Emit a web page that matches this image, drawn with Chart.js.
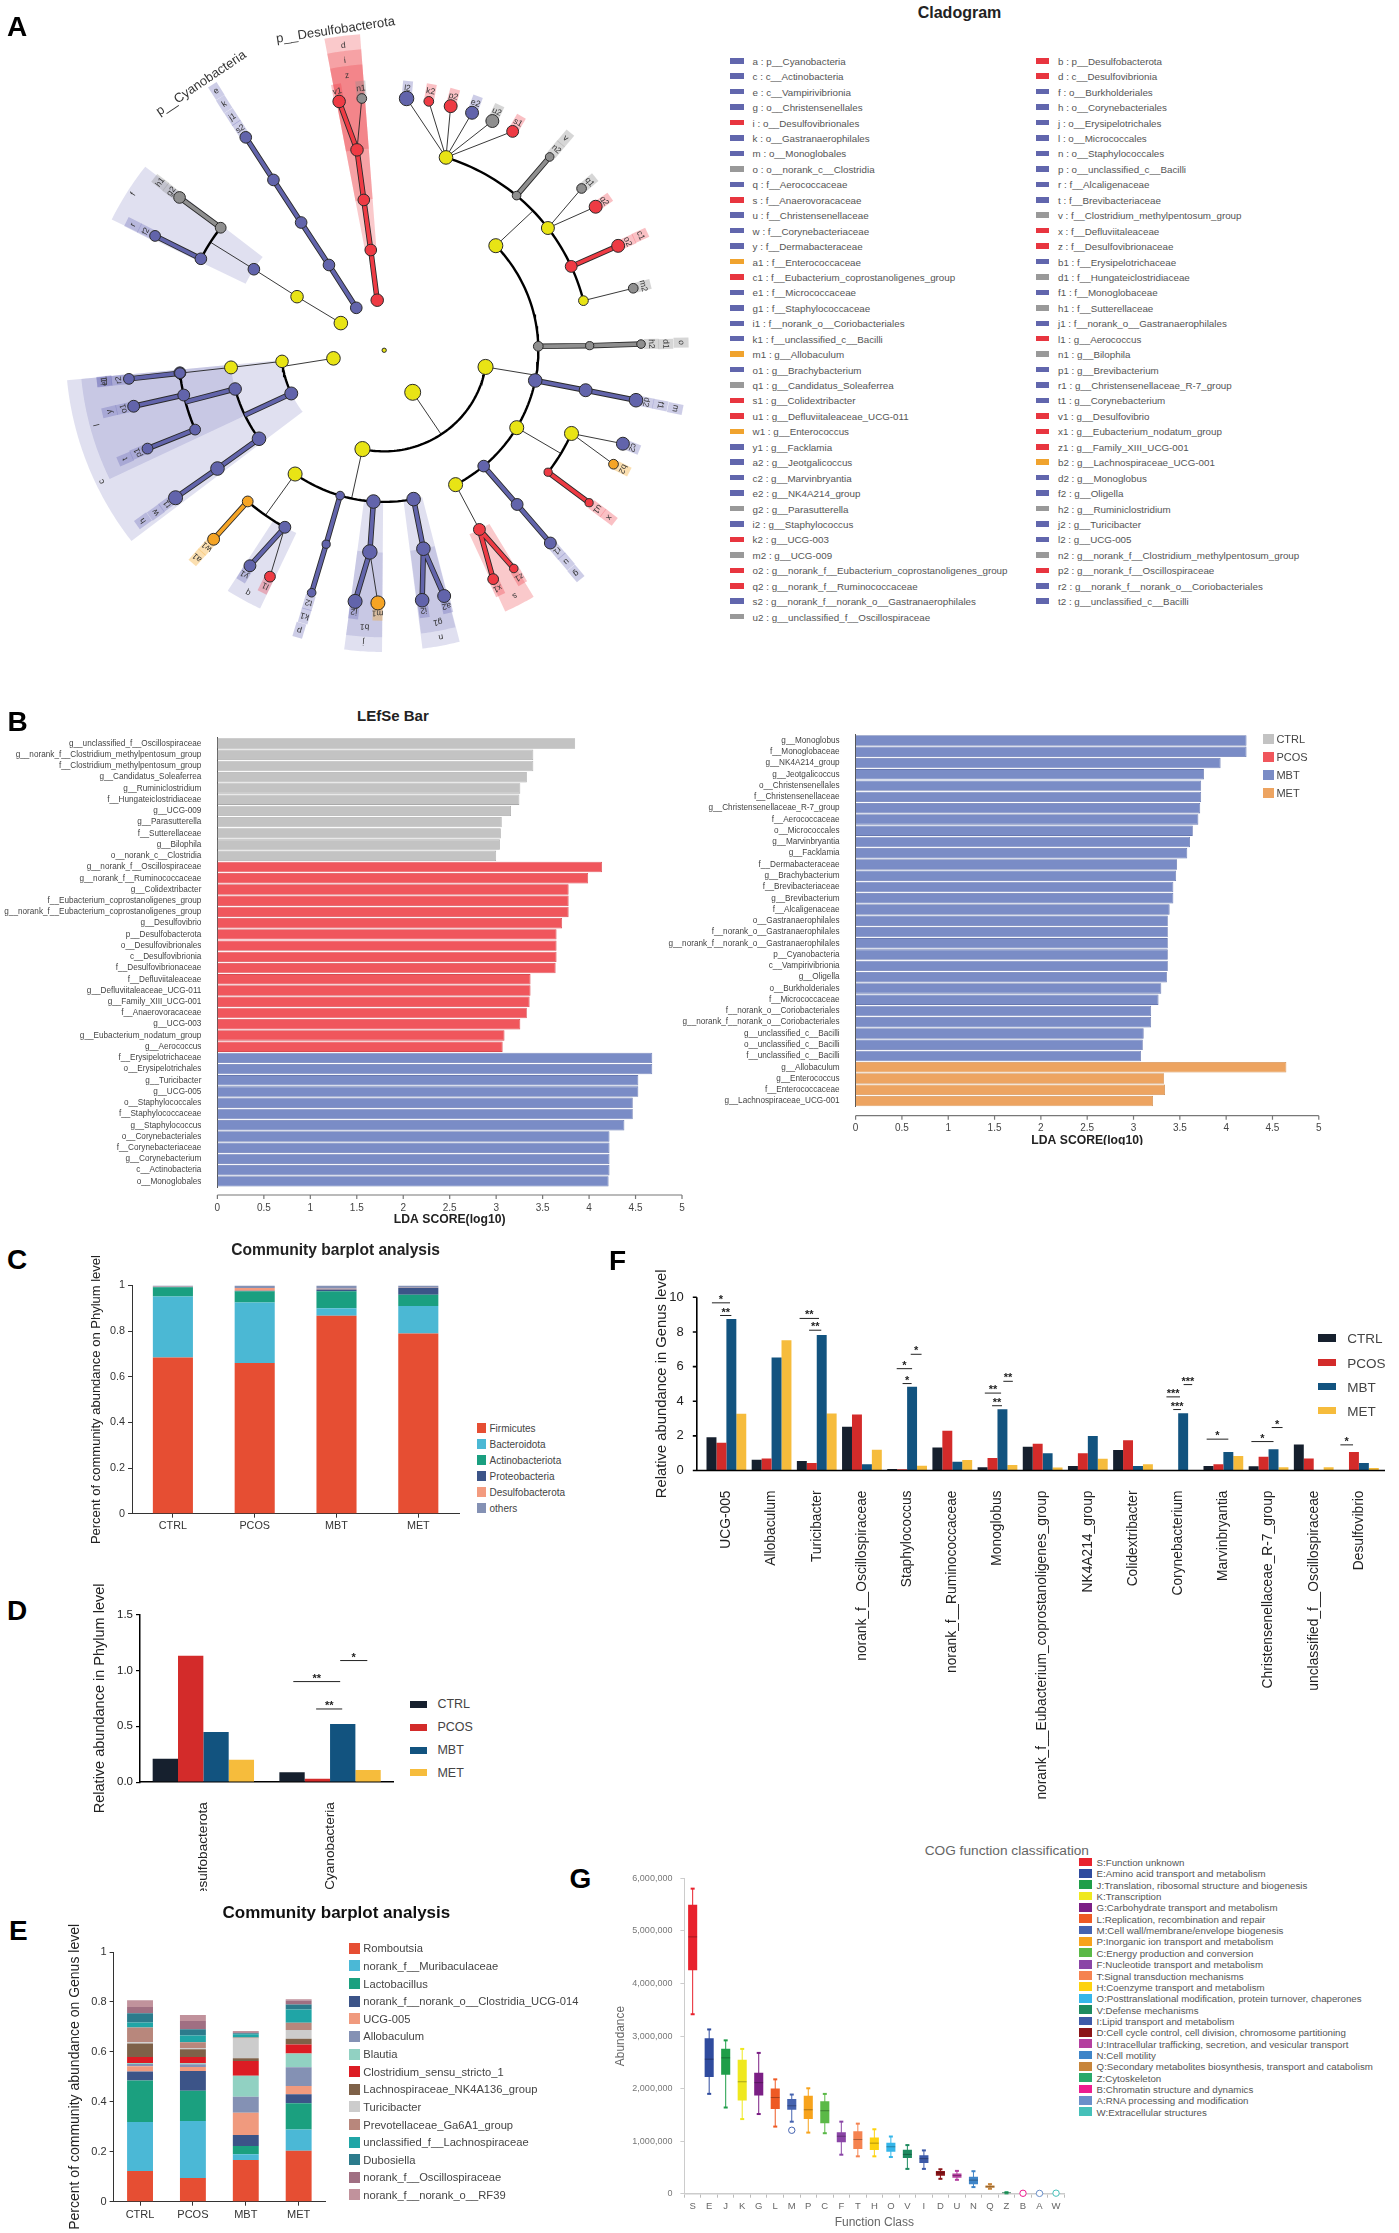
<!DOCTYPE html>
<html>
<head>
<meta charset="utf-8">
<title>Multi panel microbiome figure</title>
<script src="https://cdn.jsdelivr.net/npm/chart.js@4"></script>
<style>
  html, body { margin: 0; background: #fff; }
  #page { position: relative; width: 1399px; height: 2233px; overflow: hidden; font-family: "Liberation Sans", Arial, sans-serif; }
  #page canvas { position: absolute; }
  .t { position: absolute; white-space: nowrap; line-height: 1; }
  .s { position: absolute; }
</style>
</head>
<body>
<div id="page"></div>
<script>
// ---------- A: cladogram ----------
// id, parent, angle (deg clockwise from north), enriched group, node size
const cladeNodes = [
  ['root', null, 0, 'Y', 2],
  ['b', 'root', -7.8, 'R', 5.8], ['a', 'root', -32.9, 'B', 5.4], ['Y1', 'root', -57.5, 'Y', 6.3], ['Y2', 'root', -99.2, 'Y', 6.3], ['Y3', 'root', 146.3, 'Y', 7.4],
  ['d', 'b', -7.5, 'R', 5.4], ['e', 'a', -32.5, 'B', 5.4], ['Y4', 'Y1', -58, 'Y', 5.8], ['Y5', 'Y2', -96.3, 'Y', 5.8], ['c', 'Y2', -115.3, 'B', 6], ['Y6', 'Y3', 99.5, 'Y', 7], ['Y7', 'Y3', 192.2, 'Y', 7],
  ['i', 'd', -7.6, 'R', 5.4], ['k', 'e', -32.6, 'B', 5.4], ['f', 'Y4', -57.7, 'B', 5.4], ['Y8', 'Y5', 263.5, 'Y', 6], ['l', 'c', 255.2, 'B', 5.8], ['h', 'c', 234.3, 'B', 6.3],
  ['Y10', 'Y6', 46.4, 'Y', 6.5], ['o', 'Y6', 88.5, 'G', 4.5], ['m', 'Y6', 101.5, 'B', 6.3], ['Y11', 'Y6', 120.7, 'Y', 6.5], ['g', 'Y6', 139.8, 'B', 5.4], ['Y12', 'Y6', 152.4, 'Y', 6.5],
  ['n', 'Y7', 169, 'B', 6.3], ['j', 'Y7', 184, 'B', 6.3], ['p', 'Y7', 196.6, 'B', 4], ['Y13', 'Y7', 215.3, 'Y', 6.5],
  ['Y14', 'Y10', 17.5, 'Y', 6.3], ['v', 'Y10', 40.1, 'G', 4], ['Y15', 'Y10', 52.8, 'Y', 6], ['c1', 'Y10', 65.5, 'R', 5.5], ['Y16', 'Y10', 75.8, 'Y', 4.5],
  ['d1', 'o', 88.7, 'G', 3.8], ['f1', 'm', 101.4, 'B', 6], ['Y17', 'Y11', 114.3, 'Y', 6.5], ['x', 'Y11', 127.1, 'R', 3.8], ['u', 'g', 139.7, 'B', 5.5], ['s', 'Y12', 152.4, 'R', 5.5],
  ['g1', 'n', 169, 'B', 6.3], ['b1', 'j', 184, 'B', 6.7], ['k1', 'p', 196.4, 'B', 3.8], ['q', 'Y13', 208.9, 'B', 5.5], ['a1', 'Y13', 221.6, 'O', 5],
  ['w', 'h', 234.2, 'B', 6.3], ['t', 'l', 246.9, 'B', 5], ['y', 'l', 257.2, 'B', 5.5], ['e1', 'l', 263.6, 'B', 5.5], ['i1', 'Y8', 263.5, 'B', 5],
  ['r', 'f', 296.9, 'B', 5.4], ['h1', 'f', 307.3, 'G', 5], ['j1', 'k', 327.4, 'B', 5.4], ['z', 'i', -7.6, 'R', 5.8],
  ['l2', 'Y14', 5, 'B', 6.7], ['k2', 'Y14', 10, 'R', 4.5], ['p2', 'Y14', 15, 'R', 6], ['e2', 'Y14', 20, 'B', 6], ['u2', 'Y14', 24.9, 'G', 6], ['s1', 'Y14', 30, 'R', 5.5],
  ['n2', 'v', 40.1, 'G', 4], ['q1', 'Y15', 50.2, 'G', 4.5], ['q2', 'Y15', 55.4, 'R', 6], ['o2', 'c1', 65.6, 'R', 6], ['m2', 'Y16', 75.8, 'G', 4.5],
  ['h2', 'd1', 88.6, 'G', 4], ['d2', 'f1', 101.4, 'B', 6.3], ['c2', 'Y17', 111.7, 'B', 6], ['b2', 'Y17', 116.8, 'O', 4.5], ['u1', 'x', 127.1, 'R', 3.8],
  ['r1', 'u', 139.7, 'B', 5.5], ['x1', 's', 154.9, 'R', 5], ['z1', 's', 149.7, 'R', 4], ['a2', 'g1', 166.5, 'B', 6], ['i2', 'g1', 171.5, 'B', 6.3],
  ['m1', 'b1', 181.4, 'O', 6.5], ['j2', 'b1', 186.5, 'B', 6.5], ['t2', 'k1', 196.4, 'B', 4], ['l1', 'q', 206.4, 'R', 5], ['y1', 'q', 211.5, 'B', 5.5],
  ['w1', 'a1', 221.6, 'O', 5.5], ['t1', 'w', 234.3, 'B', 6.5], ['p1', 't', 247.1, 'B', 5], ['o1', 'y', 257.2, 'B', 5.5], ['r2', 'i1', 263.5, 'B', 5],
  ['f2', 'r', 296.9, 'B', 5], ['g2', 'h1', 307.2, 'G', 5.4], ['s2', 'j1', 327.4, 'B', 5.4], ['v1', 'z', -10.1, 'R', 5.8], ['n1', 'z', -5, 'G', 4.5]
];
// from angle, to angle, inner ring, outer ring, group
const cladeWedges = [
  [232.5, 264.5, 2, 6.2, 'B'], [244.5, 264.5, 3, 5.92, 'B'], [296, 308, 3, 5.9, 'B'],
  [-10.7, -4.3, 2, 6.27, 'R'], [-10.7, -4.3, 3, 5.97, 'R'], [-10.7, -4.3, 4, 5.67, 'R'],
  [165.7, 172.8, 3, 5.95, 'B'], [165.8, 172.7, 4, 5.65, 'B'], [180.4, 187.5, 3, 5.97, 'B'], [180.4, 187.5, 4, 5.68, 'B'],
  [149.2, 155.5, 4, 5.68, 'R'], [205.3, 212.6, 4, 5.65, 'B']
];
const wedgeLabelled = ['d', 'i', 'z', 'c', 'l', 'f', 'j', 'b1', 'n', 'g1', 's', 'q'];
const cladeTitles = [['p__Desulfobacterota', -8.5, 6.4], ['p__Cyanobacteria', -34, 6.37]];
const cladeLegend = [
  ['a', 'p__Cyanobacteria', 'B'], ['b', 'p__Desulfobacterota', 'R'], ['c', 'c__Actinobacteria', 'B'], ['d', 'c__Desulfovibrionia', 'R'],
  ['e', 'c__Vampirivibrionia', 'B'], ['f', 'o__Burkholderiales', 'B'], ['g', 'o__Christensenellales', 'B'], ['h', 'o__Corynebacteriales', 'B'],
  ['i', 'o__Desulfovibrionales', 'R'], ['j', 'o__Erysipelotrichales', 'B'], ['k', 'o__Gastranaerophilales', 'B'], ['l', 'o__Micrococcales', 'B'],
  ['m', 'o__Monoglobales', 'B'], ['n', 'o__Staphylococcales', 'B'], ['o', 'o__norank_c__Clostridia', 'G'], ['p', 'o__unclassified_c__Bacilli', 'B'],
  ['q', 'f__Aerococcaceae', 'B'], ['r', 'f__Alcaligenaceae', 'B'], ['s', 'f__Anaerovoracaceae', 'R'], ['t', 'f__Brevibacteriaceae', 'B'],
  ['u', 'f__Christensenellaceae', 'B'], ['v', 'f__Clostridium_methylpentosum_group', 'G'], ['w', 'f__Corynebacteriaceae', 'B'], ['x', 'f__Defluviitaleaceae', 'R'],
  ['y', 'f__Dermabacteraceae', 'B'], ['z', 'f__Desulfovibrionaceae', 'R'], ['a1', 'f__Enterococcaceae', 'O'], ['b1', 'f__Erysipelotrichaceae', 'B'],
  ['c1', 'f__Eubacterium_coprostanoligenes_group', 'R'], ['d1', 'f__Hungateiclostridiaceae', 'G'], ['e1', 'f__Micrococcaceae', 'B'], ['f1', 'f__Monoglobaceae', 'B'],
  ['g1', 'f__Staphylococcaceae', 'B'], ['h1', 'f__Sutterellaceae', 'G'], ['i1', 'f__norank_o__Coriobacteriales', 'B'], ['j1', 'f__norank_o__Gastranaerophilales', 'B'],
  ['k1', 'f__unclassified_c__Bacilli', 'B'], ['l1', 'g__Aerococcus', 'R'], ['m1', 'g__Allobaculum', 'O'], ['n1', 'g__Bilophila', 'G'],
  ['o1', 'g__Brachybacterium', 'B'], ['p1', 'g__Brevibacterium', 'B'], ['q1', 'g__Candidatus_Soleaferrea', 'G'], ['r1', 'g__Christensenellaceae_R-7_group', 'B'],
  ['s1', 'g__Colidextribacter', 'R'], ['t1', 'g__Corynebacterium', 'B'], ['u1', 'g__Defluviitaleaceae_UCG-011', 'R'], ['v1', 'g__Desulfovibrio', 'R'],
  ['w1', 'g__Enterococcus', 'O'], ['x1', 'g__Eubacterium_nodatum_group', 'R'], ['y1', 'g__Facklamia', 'B'], ['z1', 'g__Family_XIII_UCG-001', 'R'],
  ['a2', 'g__Jeotgalicoccus', 'B'], ['b2', 'g__Lachnospiraceae_UCG-001', 'O'], ['c2', 'g__Marvinbryantia', 'B'], ['d2', 'g__Monoglobus', 'B'],
  ['e2', 'g__NK4A214_group', 'B'], ['f2', 'g__Oligella', 'B'], ['g2', 'g__Parasutterella', 'G'], ['h2', 'g__Ruminiclostridium', 'G'],
  ['i2', 'g__Staphylococcus', 'B'], ['j2', 'g__Turicibacter', 'B'], ['k2', 'g__UCG-003', 'R'], ['l2', 'g__UCG-005', 'B'],
  ['m2', 'g__UCG-009', 'G'], ['n2', 'g__norank_f__Clostridium_methylpentosum_group', 'G'], ['o2', 'g__norank_f__Eubacterium_coprostanoligenes_group', 'R'], ['p2', 'g__norank_f__Oscillospiraceae', 'R'],
  ['q2', 'g__norank_f__Ruminococcaceae', 'R'], ['r2', 'g__norank_f__norank_o__Coriobacteriales', 'B'], ['s2', 'g__norank_f__norank_o__Gastranaerophilales', 'B'], ['t2', 'g__unclassified_c__Bacilli', 'B'],
  ['u2', 'g__unclassified_f__Oscillospiraceae', 'G']
];

// ---------- B: LEfSe bars ----------
const lefseLeftLabels = ['g__unclassified_f__Oscillospiraceae', 'g__norank_f__Clostridium_methylpentosum_group', 'f__Clostridium_methylpentosum_group', 'g__Candidatus_Soleaferrea', 'g__Ruminiclostridium', 'f__Hungateiclostridiaceae', 'g__UCG-009', 'g__Parasutterella', 'f__Sutterellaceae', 'g__Bilophila', 'o__norank_c__Clostridia',
  'g__norank_f__Oscillospiraceae', 'g__norank_f__Ruminococcaceae', 'g__Colidextribacter', 'f__Eubacterium_coprostanoligenes_group', 'g__norank_f__Eubacterium_coprostanoligenes_group', 'g__Desulfovibrio', 'p__Desulfobacterota', 'o__Desulfovibrionales', 'c__Desulfovibrionia', 'f__Desulfovibrionaceae', 'f__Defluviitaleaceae', 'g__Defluviitaleaceae_UCG-011', 'g__Family_XIII_UCG-001', 'f__Anaerovoracaceae', 'g__UCG-003', 'g__Eubacterium_nodatum_group', 'g__Aerococcus',
  'f__Erysipelotrichaceae', 'o__Erysipelotrichales', 'g__Turicibacter', 'g__UCG-005', 'o__Staphylococcales', 'f__Staphylococcaceae', 'g__Staphylococcus', 'o__Corynebacteriales', 'f__Corynebacteriaceae', 'g__Corynebacterium', 'c__Actinobacteria', 'o__Monoglobales'];
const lefseLeftScores = [3.85, 3.40, 3.40, 3.33, 3.26, 3.25, 3.16, 3.06, 3.05, 3.04, 3.00,
  4.14, 3.99, 3.78, 3.78, 3.78, 3.71, 3.65, 3.65, 3.65, 3.64, 3.37, 3.37, 3.36, 3.33, 3.26, 3.09, 3.07,
  4.68, 4.68, 4.53, 4.53, 4.47, 4.47, 4.38, 4.22, 4.22, 4.22, 4.22, 4.21];
const lefseLeftGroupSizes = [['CTRL', 11], ['PCOS', 17], ['MBT', 12]];
const lefseRightLabels = ['g__Monoglobus', 'f__Monoglobaceae', 'g__NK4A214_group', 'g__Jeotgalicoccus', 'o__Christensenellales', 'f__Christensenellaceae', 'g__Christensenellaceae_R-7_group', 'f__Aerococcaceae', 'o__Micrococcales', 'g__Marvinbryantia', 'g__Facklamia', 'f__Dermabacteraceae', 'g__Brachybacterium', 'f__Brevibacteriaceae', 'g__Brevibacterium', 'f__Alcaligenaceae', 'o__Gastranaerophilales', 'f__norank_o__Gastranaerophilales', 'g__norank_f__norank_o__Gastranaerophilales', 'p__Cyanobacteria', 'c__Vampirivibrionia', 'g__Oligella', 'o__Burkholderiales', 'f__Micrococcaceae', 'f__norank_o__Coriobacteriales', 'g__norank_f__norank_o__Coriobacteriales', 'g__unclassified_c__Bacilli', 'o__unclassified_c__Bacilli', 'f__unclassified_c__Bacilli',
  'g__Allobaculum', 'g__Enterococcus', 'f__Enterococcaceae', 'g__Lachnospiraceae_UCG-001'];
const lefseRightScores = [4.22, 4.22, 3.94, 3.76, 3.73, 3.73, 3.72, 3.70, 3.64, 3.61, 3.58, 3.47, 3.46, 3.43, 3.43, 3.39, 3.37, 3.37, 3.37, 3.37, 3.37, 3.36, 3.30, 3.27, 3.19, 3.19, 3.11, 3.10, 3.08,
  4.65, 3.33, 3.34, 3.21];
const lefseRightGroupSizes = [['MBT', 29], ['MET', 4]];
const lefseGroups = ['CTRL', 'PCOS', 'MBT', 'MET'];

// ---------- C: phylum stack ----------
const groupNames = ['CTRL', 'PCOS', 'MBT', 'MET'];
const phylumNames = ['Firmicutes', 'Bacteroidota', 'Actinobacteriota', 'Proteobacteria', 'Desulfobacterota', 'others'];
const firmicutes = [0.685, 0.66, 0.867, 0.79];
const bacteroidota = [0.267, 0.265, 0.033, 0.12];
const actinobacteriota = [0.04, 0.05, 0.075, 0.05];
const proteobacteria = [0.001, 0.002, 0.008, 0.03];
const desulfobacterota = [0.001, 0.012, 0.003, 0.001];
const otherPhyla = [0.006, 0.011, 0.014, 0.009];

// ---------- D: phylum groups ----------
const phylumPick = ['Desulfobacterota', 'Cyanobacteria'];
const phylumCtrl = [0.21, 0.09];
const phylumPcos = [1.13, 0.03];
const phylumMbt = [0.45, 0.52];
const phylumMet = [0.20, 0.11];
// from category position, to category position, value, stars
const phylumSig = [[0.71, 1.08, 0.90, '**'], [1.08, 1.294, 1.088, '*'], [0.89, 1.096, 0.655, '**']];

// ---------- E: genus stack ----------
const genusStackNames = ['Romboutsia', 'norank_f__Muribaculaceae', 'Lactobacillus', 'norank_f__norank_o__Clostridia_UCG-014', 'UCG-005', 'Allobaculum', 'Blautia', 'Clostridium_sensu_stricto_1', 'Lachnospiraceae_NK4A136_group', 'Turicibacter', 'Prevotellaceae_Ga6A1_group', 'unclassified_f__Lachnospiraceae', 'Dubosiella', 'norank_f__Oscillospiraceae', 'norank_f__norank_o__RF39'];
const genusStackCtrl = [0.123, 0.196, 0.166, 0.036, 0.021, 0.009, 0.004, 0.024, 0.055, 0.005, 0.059, 0.020, 0.037, 0.025, 0.027];
const genusStackPcos = [0.095, 0.228, 0.121, 0.079, 0.016, 0.011, 0.004, 0.025, 0.032, 0.005, 0.023, 0.027, 0.025, 0.033, 0.024];
const genusStackMbt = [0.167, 0.023, 0.033, 0.044, 0.089, 0.064, 0.084, 0.059, 0.011, 0.080, 0.004, 0.013, 0.004, 0.004, 0.005];
const genusStackMet = [0.204, 0.085, 0.105, 0.036, 0.033, 0.075, 0.056, 0.036, 0.023, 0.035, 0.029, 0.053, 0.020, 0.016, 0.005];

// ---------- F: genus groups ----------
const genusPick = ['UCG-005', 'Allobaculum', 'Turicibacter', 'norank_f__Oscillospiraceae', 'Staphylococcus', 'norank_f__Ruminococcaceae', 'Monoglobus', 'norank_f__Eubacterium_coprostanoligenes_group', 'NK4A214_group', 'Colidextribacter', 'Corynebacterium', 'Marvinbryantia', 'Christensenellaceae_R-7_group', 'unclassified_f__Oscillospiraceae', 'Desulfovibrio'];
const genusCtrl = [1.92, 0.62, 0.55, 2.52, 0.08, 1.33, 0.19, 1.37, 0.26, 1.18, 0.02, 0.26, 0.24, 1.50, 0.02];
const genusPcos = [1.60, 0.70, 0.43, 3.23, 0.07, 2.29, 0.72, 1.54, 1.00, 1.75, 0.02, 0.36, 0.79, 0.70, 1.07];
const genusMbt = [8.74, 6.52, 7.82, 0.36, 4.83, 0.51, 3.53, 1.00, 1.99, 0.26, 3.31, 1.07, 1.22, 0.02, 0.43];
const genusMet = [3.27, 7.52, 3.29, 1.20, 0.28, 0.60, 0.32, 0.17, 0.68, 0.36, 0.02, 0.83, 0.19, 0.19, 0.15];
const genusSig = [[-0.32, 0.08, 9.68, '*'], [-0.14, 0.11, 8.95, '**'], [1.62, 2.05, 8.78, '**'], [1.83, 2.10, 8.10, '**'], [3.77, 4.11, 5.88, '*'], [3.90, 4.10, 5.02, '*'], [4.08, 4.32, 6.71, '*'], [5.72, 6.08, 4.47, '**'], [5.88, 6.10, 3.74, '**'], [6.13, 6.34, 5.15, '**'], [9.74, 10.04, 4.25, '***'], [9.89, 10.06, 3.52, '***'], [10.12, 10.31, 4.96, '***'], [10.63, 11.11, 1.81, '*'], [11.62, 12.11, 1.67, '*'], [12.07, 12.31, 2.48, '*'], [13.59, 13.87, 1.48, '*']];

// ---------- G: COG boxes ----------
const cogLetters = ['S', 'E', 'J', 'K', 'G', 'L', 'M', 'P', 'C', 'F', 'T', 'H', 'O', 'V', 'I', 'D', 'U', 'N', 'Q', 'Z', 'B', 'A', 'W'];
const cogNames = ['Function unknown', 'Amino acid transport and metabolism', 'Translation, ribosomal structure and biogenesis', 'Transcription', 'Carbohydrate transport and metabolism', 'Replication, recombination and repair', 'Cell wall/membrane/envelope biogenesis', 'Inorganic ion transport and metabolism', 'Energy production and conversion', 'Nucleotide transport and metabolism', 'Signal transduction mechanisms', 'Coenzyme transport and metabolism', 'Posttranslational modification, protein turnover, chaperones', 'Defense mechanisms', 'Lipid transport and metabolism', 'Cell cycle control, cell division, chromosome partitioning', 'Intracellular trafficking, secretion, and vesicular transport', 'Cell motility', 'Secondary metabolites biosynthesis, transport and catabolism', 'Cytoskeleton', 'Chromatin structure and dynamics', 'RNA processing and modification', 'Extracellular structures'];
const cogMin = [3415000, 1900000, 1640000, 1420000, 1516000, 1277000, 1370000, 1163000, 1151000, 742000, 711000, 711000, 698000, 472000, 472000, 283000, 264000, 126000, 94000, 6000, 1000, 500, 500];
const cogQ1 = [4250000, 2220000, 2264000, 1774000, 1868000, 1610000, 1597000, 1421000, 1340000, 981000, 849000, 830000, 799000, 679000, 585000, 340000, 302000, 182000, 113000, 12000, 2000, 1000, 1000];
const cogMedian = [4887000, 2560000, 2585000, 2130000, 2113000, 1830000, 1673000, 1597000, 1579000, 1094000, 1031000, 962000, 893000, 748000, 667000, 396000, 346000, 258000, 132000, 18000, 3000, 1500, 1500];
const cogQ3 = [5497000, 2960000, 2760000, 2547000, 2302000, 2000000, 1800000, 1862000, 1761000, 1170000, 1189000, 1069000, 969000, 836000, 730000, 434000, 384000, 321000, 157000, 22000, 4000, 2000, 2000];
const cogMax = [5805000, 3126000, 2918000, 2755000, 2679000, 2176000, 1887000, 2006000, 1899000, 1371000, 1333000, 1226000, 1088000, 925000, 824000, 465000, 434000, 428000, 182000, 30000, 5000, 2500, 2500];
const cogOutliers = [null, null, null, null, null, null, 1207000, null, null, null, null, null, null, null, null, null, null, null, null, null, 8000, 6000, 10000];

// colours
const cladeColors = { Y: '#e8e415', B: '#6264ab', R: '#ee3b44', G: '#8f8f8f', O: '#f5a425' };
const cladeSwatch = { B: '#6166ad', R: '#e8353f', G: '#999999', O: '#f0a32e' };
const shadeColors = { B: 'rgba(98,98,180,0.2)', R: 'rgba(238,60,70,0.28)' };
const chipColors = { B: 'rgba(98,98,180,0.32)', R: 'rgba(238,60,70,0.32)', G: 'rgba(140,140,140,0.36)', O: 'rgba(245,166,35,0.36)' };
const lefseColors = { CTRL: '#c3c3c3', PCOS: '#f0565c', MBT: '#7a8cc6', MET: '#eda461' };
const lefseBorders = { CTRL: '#a9a9a9', PCOS: '#d94a50', MBT: '#6677b0', MET: '#d28f50' };
const groupColors = ['#16202e', '#d32b2a', '#12537f', '#f6bc3c'];
const phylumColors = ['#e64e33', '#4bb8d4', '#1a9f80', '#3c5488', '#f39b7f', '#8491b4'];
const genusStackColors = ['#e64e33', '#4bb8d6', '#1ba07f', '#3c5488', '#f09a7e', '#8491b4', '#91d1c2', '#dc1c24', '#7e6148', '#cccccc', '#b8877c', '#20a5a6', '#2c7b8c', '#a06f82', '#c1929c'];
const cogColors = ['#e8222d', '#2f4b9e', '#1f9e49', '#efe81f', '#7b1f85', '#ee5a24', '#4563b0', '#f7a31c', '#5bb947', '#8a45a6', '#f58350', '#fdd20e', '#35b6ea', '#1d8a5f', '#3d5aa8', '#8b1418', '#b43f9f', '#3f85c8', '#c7853b', '#2aa96b', '#ec1c8e', '#6a8fc9', '#45c0b9'];

Chart.defaults.font.family = '"Liberation Sans", Arial, sans-serif';
Chart.defaults.animation = false;
Chart.defaults.plugins.legend.display = false;
Chart.defaults.plugins.tooltip.enabled = false;

const page = document.getElementById('page');
const plainTick = v => String(+v.toFixed(1));

function addText(x, y, text, css, center) {
  const el = document.createElement('div');
  el.className = 't';
  el.textContent = text;
  el.style.cssText = `left:${x}px;top:${y}px;transform:translate(${center ? '-50%' : '0'},-50%);${css}`;
  page.appendChild(el);
}
function addSwatch(x0, x1, y, h, color) {
  const el = document.createElement('div');
  el.className = 's';
  el.style.cssText = `left:${x0}px;top:${y - h / 2}px;width:${x1 - x0}px;height:${h}px;background:${color}`;
  page.appendChild(el);
}

// box = canvas rect, area = plot rect, yLeft = left edge of the y axis block (all in page px)
function makeChart(box, area, yLeft, config) {
  const [bl, bt, br, bb] = box;
  const [al, at, ar, ab] = area;
  const canvas = document.createElement('canvas');
  canvas.width = br - bl;
  canvas.height = bb - bt;
  canvas.style.left = bl + 'px';
  canvas.style.top = bt + 'px';
  page.appendChild(canvas);
  const opts = config.options;
  opts.responsive = false;
  opts.devicePixelRatio = 1;
  opts.layout = { padding: { left: yLeft - bl, top: at - bt, right: br - ar, bottom: 0 } };
  opts.scales.x.afterFit = s => { s.height = bb - ab; };
  opts.scales.y.afterFit = s => { s.width = al - yLeft; };
  return new Chart(canvas, config);
}

// ---------- cladogram helpers ----------
const nodeById = {};
cladeNodes.forEach(([id, parent, angle, group, size]) => {
  const rank = parent ? nodeById[parent].rank + 1 : 0;
  nodeById[id] = { id, parent, angle: (angle + 360) % 360, group, size, rank, kids: [] };
  if (parent) nodeById[parent].kids.push(nodeById[id]);
});
const polar = (angle, rank) => ({ x: rank * Math.sin(angle * Math.PI / 180), y: rank * Math.cos(angle * Math.PI / 180) });
const gap = { x: null, y: null };

const thinEdges = [], arcEdges = [], thickEdges = { B: [], R: [], G: [], O: [] };
function addSeg(list, a, b) { list.push(a, b, gap); }
Object.values(nodeById).forEach(p => {
  if (p.id === 'root' || !p.kids.length) return;
  const from = polar(p.angle, p.rank);
  if (p.kids.length === 1 || p.rank === 4) {
    // single child or genus fan: straight edges
    p.kids.forEach(c => {
      const to = polar(c.angle, c.rank);
      if (c.group === p.group && p.group !== 'Y') addSeg(thickEdges[p.group], from, to);
      else addSeg(thinEdges, from, to);
    });
    return;
  }
  const toRoot = polar(p.angle, p.rank + 1);
  if (p.group !== 'Y' && p.kids.every(c => c.group === p.group)) addSeg(thickEdges[p.group], from, toRoot);
  else addSeg(thinEdges, from, toRoot);
  const angles = p.kids.map(c => c.angle);
  const lo = Math.min(...angles), hi = Math.max(...angles);
  for (let t = lo; t < hi; t += 1.5) arcEdges.push(polar(t, p.rank + 1));
  arcEdges.push(polar(hi, p.rank + 1), gap);
});

const cladeLabelRank = { 5: 5.2, 4: 5.48, 3: 5.78, 2: 6.08 };
const cladePlugin = {
  id: 'cladeShading',
  beforeDatasetsDraw(chart) {
    const { ctx, scales: { x, y } } = chart;
    const px = p => [x.getPixelForValue(p.x), y.getPixelForValue(p.y)];
    ctx.save();
    cladeWedges.forEach(([a0, a1, r0, r1, group]) => {
      ctx.beginPath();
      for (let t = a0; t <= a1; t += 0.5) ctx.lineTo(...px(polar(t, r1)));
      ctx.lineTo(...px(polar(a1, r1)));
      ctx.lineTo(...px(polar(a1, r0)));
      for (let t = a1; t >= a0; t -= 0.5) ctx.lineTo(...px(polar(t, r0)));
      ctx.lineTo(...px(polar(a0, r0)));
      ctx.closePath();
      ctx.fillStyle = shadeColors[group];
      ctx.fill();
    });
    Object.values(nodeById).forEach(n => {
      if (n.group === 'Y' || n.rank < 2 || wedgeLabelled.includes(n.id)) return;
      const [cx, cy] = px(polar(n.angle, cladeLabelRank[n.rank]));
      ctx.save();
      ctx.translate(cx, cy);
      ctx.rotate(n.angle * Math.PI / 180);
      ctx.fillStyle = chipColors[n.group];
      ctx.fillRect(-5, -7.5, 10, 15);
      ctx.restore();
    });
    ctx.restore();
  },
  afterDatasetsDraw(chart) {
    const { ctx, scales: { x, y } } = chart;
    const px = p => [x.getPixelForValue(p.x), y.getPixelForValue(p.y)];
    ctx.save();
    ctx.textAlign = 'center';
    ctx.textBaseline = 'middle';
    ctx.fillStyle = '#333';
    ctx.font = '8.5px "Liberation Sans"';
    Object.values(nodeById).forEach(n => {
      if (n.group === 'Y' || n.rank < 2) return;
      const [cx, cy] = px(polar(n.angle, cladeLabelRank[n.rank]));
      ctx.save();
      ctx.translate(cx, cy);
      ctx.rotate(n.angle * Math.PI / 180);
      ctx.fillText(n.id, 0, 0);
      ctx.restore();
    });
    ctx.font = '13px "Liberation Sans"';
    cladeTitles.forEach(([text, angle, rank]) => {
      const [cx, cy] = px(polar(angle, rank));
      ctx.save();
      ctx.translate(cx, cy);
      ctx.rotate(angle * Math.PI / 180);
      ctx.fillText(text, 0, 0);
      ctx.restore();
    });
    ctx.restore();
  }
};

const edgeSet = (data, color, width, order) => ({ type: 'scatter', data, showLine: true, borderColor: color, borderWidth: width, pointRadius: 0, order, tension: 0, borderCapStyle: 'butt', clip: false });
const nodeList = Object.values(nodeById);
const cladeCx = 384.8, cladeCy = 350.4, cladeUx = 52.7, cladeUy = 51.9;
makeChart([0, 0, 720, 690], [0, 0, 720, 690], 0, {
  type: 'scatter',
  data: {
    datasets: [
      {
        data: nodeList.map(n => polar(n.angle, n.rank)),
        pointRadius: nodeList.map(n => n.size * 1.08),
        pointBackgroundColor: nodeList.map(n => cladeColors[n.group]),
        pointBorderColor: '#2a2a2a', pointBorderWidth: 1, order: 0, clip: false
      },
      edgeSet(thickEdges.B, cladeColors.B, 3.7, 1),
      edgeSet(thickEdges.R, cladeColors.R, 3.7, 1),
      edgeSet(thickEdges.G, cladeColors.G, 3.7, 1),
      edgeSet(thickEdges.O, cladeColors.O, 3.7, 1),
      edgeSet([...thickEdges.B, ...thickEdges.R, ...thickEdges.G, ...thickEdges.O], '#2a2a2a', 5.5, 2),
      edgeSet(arcEdges, '#000', 2.4, 3),
      edgeSet(thinEdges, '#222', 0.9, 4)
    ]
  },
  options: {
    scales: {
      x: { type: 'linear', display: false, min: -cladeCx / cladeUx, max: (720 - cladeCx) / cladeUx },
      y: { type: 'linear', display: false, min: -(690 - cladeCy) / cladeUy, max: cladeCy / cladeUy }
    }
  },
  plugins: [cladePlugin]
});

addText(959.5, 12.5, 'Cladogram', 'font:bold 16px "Liberation Sans";color:#222', true);
cladeLegend.forEach(([letter, taxon, group], i) => {
  const col = i % 2, row = Math.floor(i / 2);
  const y = 60.8 + row * 15.44;
  const sx = col ? 1035.7 : 730.3;
  addSwatch(sx, sx + 13.4, y, 5.5, cladeSwatch[group]);
  addText(col ? 1058 : 752.6, y, `${letter} : ${taxon}`, 'font:9.8px "Liberation Sans";color:#555');
});

// ---------- LEfSe bars ----------
function offsetXAxis(offset) {
  return {
    id: 'offsetXAxis',
    afterDraw(chart) {
      const { ctx, chartArea: a, scales: { x } } = chart;
      ctx.save();
      ctx.strokeStyle = '#777';
      ctx.lineWidth = 1.2;
      ctx.beginPath();
      ctx.moveTo(a.left, a.bottom + offset);
      ctx.lineTo(a.right, a.bottom + offset);
      x.ticks.forEach(t => {
        const px = x.getPixelForValue(t.value);
        ctx.moveTo(px, a.bottom + offset);
        ctx.lineTo(px, a.bottom + offset + 4);
      });
      ctx.stroke();
      ctx.restore();
    }
  };
}
function lefseChart(box, area, yLeft, labels, scores, groupSizes, tickPad, offset, titleShift) {
  const groups = groupSizes.flatMap(([g, n]) => Array(n).fill(g));
  return makeChart(box, area, yLeft, {
    type: 'bar',
    data: {
      labels,
      datasets: [{
        data: scores,
        backgroundColor: groups.map(g => lefseColors[g]),
        borderColor: groups.map(g => lefseBorders[g]),
        borderWidth: 0.8,
        categoryPercentage: 1,
        barPercentage: 0.93
      }]
    },
    options: {
      indexAxis: 'y',
      scales: {
        x: {
          type: 'linear', min: 0, max: 5,
          grid: { display: false }, border: { display: false },
          ticks: { stepSize: 0.5, color: '#444', font: { size: 10 }, padding: tickPad, maxRotation: 0, callback: plainTick },
          title: { display: true, text: 'LDA SCORE(log10)', color: '#222', font: { size: 12.2, weight: 'bold' }, padding: { top: 0, bottom: titleShift } }
        },
        y: {
          grid: { display: false }, border: { color: '#555', width: 1 },
          ticks: { color: '#444', font: { size: 8.2 }, padding: 8, autoSkip: false }
        }
      }
    },
    plugins: [offsetXAxis(offset)]
  });
}
lefseChart([0, 725, 695, 1227], [217.4, 734.5, 682, 1187], 0, lefseLeftLabels, lefseLeftScores, lefseLeftGroupSizes, 7, 8, 0);
// the right chart's title runs into the next block in the source figure, its descenders are cut
lefseChart([660, 722, 1332, 1145], [855.6, 733.3, 1318.8, 1106.7], 660, lefseRightLabels, lefseRightScores, lefseRightGroupSizes, 8, 9, -3.3);
addText(392.9, 714.6, 'LEfSe Bar', 'font:bold 15px "Liberation Sans";color:#222', true);
lefseGroups.forEach((g, i) => {
  const y = [738.7, 756.7, 775, 793.3][i];
  addSwatch(1263, 1273.6, y, 10, lefseColors[g]);
  addText(1276.4, y, g, 'font:11px "Liberation Sans";color:#444');
});

// ---------- stacked bars ----------
function stackChart(box, area, yLeft, yLabel, labelSize, tickSize, xPad, seriesNames, series, colors) {
  return makeChart(box, area, yLeft, {
    type: 'bar',
    data: {
      labels: groupNames,
      datasets: seriesNames.map((name, i) => ({ label: name, data: series[i], backgroundColor: colors[i], categoryPercentage: 0.98, barPercentage: 0.5 }))
    },
    options: {
      scales: {
        x: {
          stacked: true,
          grid: { drawOnChartArea: false, offset: false, tickLength: 4, color: '#333' },
          border: { color: '#333' },
          ticks: { color: '#333', font: { size: tickSize }, padding: xPad, maxRotation: 0 }
        },
        y: {
          stacked: true, min: 0, max: 1,
          grid: { drawOnChartArea: false, tickLength: 4, color: '#333' },
          border: { color: '#333' },
          ticks: { stepSize: 0.2, color: '#333', font: { size: tickSize }, padding: 3, callback: plainTick },
          title: { display: true, text: yLabel, color: '#222', font: { size: labelSize }, padding: 0 }
        }
      }
    }
  });
}
stackChart([85, 1245, 475, 1552], [132, 1285.5, 459.2, 1513.7], 89, 'Percent of community abundance on Phylum level', 13, 10.8, 2, phylumNames,
  [firmicutes, bacteroidota, actinobacteriota, proteobacteria, desulfobacterota, otherPhyla], phylumColors);
addText(335.6, 1250.4, 'Community barplot analysis', 'font:bold 15.6px "Liberation Sans";color:#222', true);
phylumNames.forEach((name, i) => {
  const y = [1427.6, 1443.9, 1460.2, 1475.7, 1492, 1508.4][i];
  addSwatch(476.5, 486, y, 10, phylumColors[i]);
  addText(489.5, y, name, 'font:10px "Liberation Sans";color:#444');
});

const genusStackSeries = genusStackNames.map((_, i) => [genusStackCtrl[i], genusStackPcos[i], genusStackMbt[i], genusStackMet[i]]);
stackChart([60, 1915, 335, 2233], [113.6, 1952, 325.1, 2201.7], 66.6, 'Percent of community abundance on Genus level', 14, 11, 3, genusStackNames, genusStackSeries, genusStackColors);
addText(336.4, 1913.3, 'Community barplot analysis', 'font:bold 17px "Liberation Sans";color:#111', true);
genusStackNames.forEach((name, i) => {
  const y = 1948.3 + i * 17.62;
  addSwatch(349.3, 360, y, 11, genusStackColors[i]);
  addText(363.2, y, name, 'font:11.2px "Liberation Sans";color:#444');
});

// ---------- grouped bars ----------
function sigBrackets(list) {
  return {
    id: 'sigBrackets',
    afterDatasetsDraw(chart) {
      const { ctx, scales: { x, y } } = chart;
      ctx.save();
      ctx.strokeStyle = '#222';
      ctx.fillStyle = '#222';
      ctx.lineWidth = 1;
      ctx.textAlign = 'center';
      ctx.textBaseline = 'middle';
      ctx.font = 'bold 11px "Liberation Sans"';
      list.forEach(([x0, x1, value, stars]) => {
        const px0 = x.getPixelForValue(x0), px1 = x.getPixelForValue(x1), py = y.getPixelForValue(value);
        ctx.beginPath();
        ctx.moveTo(px0, py);
        ctx.lineTo(px1, py);
        ctx.stroke();
        ctx.fillText(stars, (px0 + px1) / 2, py - 3);
      });
      ctx.restore();
    }
  };
}
// y axis pushed left of the first band, x axis pulled past the last one
function detachedAxes(shift, over) {
  return {
    id: 'detachedAxes',
    afterDatasetsDraw(chart) {
      const { ctx, chartArea: a, scales: { y } } = chart;
      ctx.save();
      ctx.strokeStyle = '#000';
      ctx.lineWidth = 1.6;
      ctx.beginPath();
      ctx.moveTo(a.left - shift, a.top);
      ctx.lineTo(a.left - shift, a.bottom);
      ctx.moveTo(a.left - shift, a.bottom);
      ctx.lineTo(a.right + over, a.bottom);
      y.ticks.forEach(t => {
        const py = y.getPixelForValue(t.value);
        ctx.moveTo(a.left - shift, py);
        ctx.lineTo(a.left - shift - 4, py);
      });
      ctx.stroke();
      ctx.restore();
    }
  };
}
function groupedDatasets(series, categoryShare) {
  return groupNames.map((name, i) => ({ label: name, data: series[i], backgroundColor: groupColors[i], categoryPercentage: categoryShare, barPercentage: 1 }));
}
makeChart([85, 1570, 400, 1891], [140, 1614.5, 393.4, 1782.2], 91.3, {
  type: 'bar',
  data: { labels: phylumPick, datasets: groupedDatasets([phylumCtrl, phylumPcos, phylumMbt, phylumMet], 0.8) },
  options: {
    scales: {
      x: {
        grid: { display: false }, border: { color: '#000', width: 1.5 },
        ticks: { color: '#222', font: { size: 13.6 }, padding: 12, minRotation: 90, maxRotation: 90, autoSkip: false }
      },
      y: {
        min: 0, max: 1.5,
        grid: { drawOnChartArea: false, tickLength: 4, color: '#000', lineWidth: 1.2 }, border: { color: '#000', width: 1.5 },
        ticks: { stepSize: 0.5, color: '#222', font: { size: 11.5 }, padding: 3, callback: v => v.toFixed(1) },
        title: { display: true, text: 'Relative abundance in Phylum level', color: '#222', font: { size: 14.5 }, padding: 0 }
      }
    }
  },
  plugins: [sigBrackets(phylumSig)]
});
groupNames.forEach((g, i) => {
  const y = [1704.3, 1727, 1750, 1772.9][i];
  addSwatch(409.5, 427, y, 7, groupColors[i]);
  addText(437.4, y, g, 'font:12.5px "Liberation Sans";color:#444');
});

makeChart([640, 1255, 1392, 1810], [703.8, 1297.3, 1381.5, 1470.5], 653.3, {
  type: 'bar',
  data: { labels: genusPick, datasets: groupedDatasets([genusCtrl, genusPcos, genusMbt, genusMet], 0.88) },
  options: {
    scales: {
      x: {
        grid: { display: false }, border: { display: false },
        ticks: { color: '#222', font: { size: 13.8 }, padding: 12, minRotation: 90, maxRotation: 90, autoSkip: false }
      },
      y: {
        min: 0, max: 10,
        grid: { display: false }, border: { display: false },
        ticks: { stepSize: 2, color: '#222', font: { size: 13 }, padding: 12 },
        title: { display: true, text: 'Relative abundance in Genus level', color: '#222', font: { size: 14.8 }, padding: 0 }
      }
    }
  },
  plugins: [sigBrackets(genusSig), detachedAxes(7, 3.5)]
});
groupNames.forEach((g, i) => {
  const y = [1338, 1362.5, 1386.5, 1410.6][i];
  addSwatch(1317.6, 1336.5, y, 7.4, groupColors[i]);
  addText(1347.2, y, g, 'font:13.5px "Liberation Sans";color:#444');
});

// ---------- COG boxes ----------
const boxWhiskers = {
  id: 'boxWhiskers',
  beforeDatasetsDraw(chart) {
    const { ctx, scales: { x, y } } = chart;
    ctx.save();
    ctx.lineWidth = 1;
    cogLetters.forEach((_, i) => {
      const px = x.getPixelForValue(i);
      ctx.strokeStyle = cogColors[i];
      ctx.fillStyle = cogColors[i];
      ctx.beginPath();
      ctx.moveTo(px, y.getPixelForValue(cogMin[i]));
      ctx.lineTo(px, y.getPixelForValue(cogMax[i]));
      ctx.stroke();
      if (i < 20) {
        [cogMin[i], cogMax[i]].forEach(v => ctx.fillRect(px - 2, y.getPixelForValue(v) - 1, 4, 2));
      }
    });
    ctx.restore();
  },
  afterDatasetsDraw(chart) {
    const { ctx, scales: { x, y } } = chart;
    ctx.save();
    ctx.lineWidth = 1;
    ctx.strokeStyle = 'rgba(0,0,0,0.3)';
    cogLetters.forEach((_, i) => {
      if (i >= 20) return;
      const px = x.getPixelForValue(i), py = y.getPixelForValue(cogMedian[i]);
      ctx.beginPath();
      ctx.moveTo(px - 4.5, py);
      ctx.lineTo(px + 4.5, py);
      ctx.stroke();
    });
    ctx.restore();
  }
};
makeChart([605, 1865, 1075, 2230], [684.4, 1876, 1064.3, 2193.7], 613.4, {
  type: 'bar',
  data: {
    labels: cogLetters,
    datasets: [
      { type: 'line', data: cogOutliers, showLine: false, pointRadius: 3.2, pointBorderWidth: 1, pointBackgroundColor: '#fff', pointBorderColor: cogColors, order: 0, clip: false },
      { data: cogQ1.map((q, i) => [q, cogQ3[i]]), backgroundColor: cogColors, categoryPercentage: 1, barPercentage: 0.55, order: 1 }
    ]
  },
  options: {
    scales: {
      x: {
        grid: { drawOnChartArea: false, tickLength: 4, color: '#bbb' }, border: { color: '#ccc', width: 1.5 },
        ticks: { color: '#666', font: { size: 9.5 }, padding: 3, maxRotation: 0, autoSkip: false },
        title: { display: true, text: 'Function Class', color: '#666', font: { size: 12 }, padding: 0 }
      },
      y: {
        min: 0, max: 6000000,
        grid: { drawOnChartArea: false, tickLength: 4, color: '#ccc' }, border: { color: '#ccc' },
        ticks: { stepSize: 1000000, color: '#777', font: { size: 9 }, padding: 8, callback: v => v.toLocaleString('en-US') },
        title: { display: true, text: 'Abundance', color: '#666', font: { size: 11.9 }, padding: 0 }
      }
    }
  },
  plugins: [boxWhiskers]
});
addText(1006.8, 1850, 'COG function classification', 'font:13.7px "Liberation Sans";color:#666', true);
cogLetters.forEach((letter, i) => {
  const y = 1862 + i * 11.35;
  addSwatch(1079, 1091.8, y, 8.8, cogColors[i]);
  addText(1096.6, y, `${letter}:${cogNames[i]}`, 'font:9.7px "Liberation Sans";color:#555');
});

// panel letters
[['A', 7, 26.5], ['B', 7.6, 721.5], ['C', 7, 1260], ['D', 7, 1611], ['E', 9, 1931], ['F', 609, 1261], ['G', 569.6, 1879]].forEach(([letter, x, y]) => {
  addText(x, y, letter, 'font:bold 28px "Liberation Sans";color:#000');
});
</script>
</body>
</html>
